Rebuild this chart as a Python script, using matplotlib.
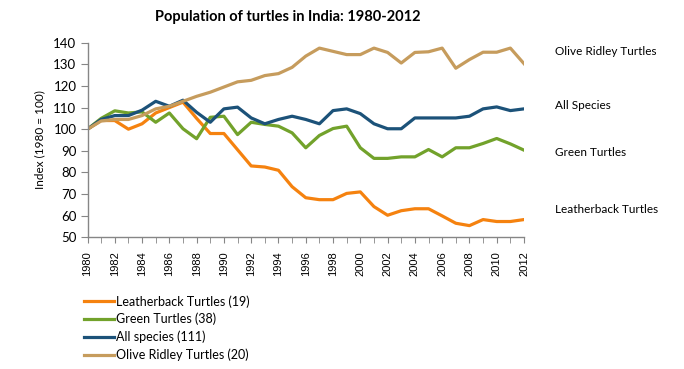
import matplotlib
matplotlib.use("Agg")
import matplotlib.pyplot as plt

years = list(range(1980, 2013))
leatherback = [100, 104, 104, 100, 102.5, 107.5, 110, 112.5, 105, 98, 98, 90.5, 83, 82.5, 81, 73.4, 68.3,
               67.4, 67.4, 70.3, 71, 64.2, 60.2, 62.3, 63.2, 63.2, 59.9, 56.5, 55.4, 58.2, 57.3, 57.3, 58.2]
green = [100, 105, 108.5, 107.5, 108, 103.2, 107.5, 100.2, 95.6, 105.5, 106, 97.5, 103.2, 102.2, 101.4, 98.3, 91.4,
         97.1, 100.3, 101.4, 91.4, 86.5, 86.5, 87.2, 87.2, 90.6, 87.2, 91.4, 91.4, 93.4, 95.7, 93.2, 90.3]
all_species = [100, 104.5, 106.3, 106.3, 108.8, 112.9, 110.6, 113.4, 107.8, 103.2, 109.4, 110.2, 105.2, 102.5, 104.5, 106, 104.5,
               102.5, 108.6, 109.4, 107.2, 102.5, 100.2, 100.2, 105.2, 105.2, 105.2, 105.2, 106, 109.4, 110.3, 108.6, 109.4]
olive_ridley = [100, 103.8, 104.5, 104.5, 106.3, 109.4, 110.6, 112.9, 115.2, 117.1, 119.5, 121.9, 122.6, 124.8, 125.7, 128.6, 133.8,
                137.5, 136, 134.5, 134.5, 137.5, 135.5, 130.6, 135.5, 135.8, 137.5, 128.2, 132.2, 135.6, 135.6, 137.5, 130.3]

series = [
    ("Leatherback Turtles (19)", leatherback, "#F5820F"),
    ("Green Turtles (38)", green, "#72A22B"),
    ("All species (111)", all_species, "#1C5279"),
    ("Olive Ridley Turtles (20)", olive_ridley, "#C69C5D"),
]
end_labels = ["Leatherback Turtles", "Green Turtles", "All Species", "Olive Ridley Turtles"]
end_label_y = [62.9, 89.2, 110.8, 135.8]

W, H = 684, 369
fig = plt.figure(figsize=(W / 100, H / 100), dpi=100)
ax = fig.add_axes([87.5 / W, 1 - 237.3 / H, (524 - 87.5) / W, (237.3 - 42.7) / H])

for name, vals, col in series:
    ax.plot(years, vals, color=col, lw=2.3, label=name, solid_joinstyle="round")

ax.set_xlim(1980, 2012)
ax.set_ylim(50, 140)
ax.set_yticks(range(50, 141, 10))
ax.set_xticks(years, minor=True)
ax.set_xticks(range(1980, 2013, 2))
ax.set_xticklabels([str(y) for y in range(1980, 2013, 2)], rotation=90,
                   fontfamily="Liberation Sans", fontsize=8)
for lab in ax.get_yticklabels():
    lab.set_fontfamily("Lato")
    lab.set_fontsize(9.5)
ax.tick_params(axis="x", which="both", length=4, color="#868686", direction="out", pad=6)
ax.tick_params(axis="y", length=5, color="#868686", direction="out", pad=3)
for s in ["top", "right"]:
    ax.spines[s].set_visible(False)
for s in ["left", "bottom"]:
    ax.spines[s].set_color("#868686")
    ax.spines[s].set_linewidth(1)
ax.set_ylabel("Index (1980 = 100)", fontfamily="Lato", fontsize=8.5, labelpad=6)

for lab, yv in zip(end_labels, end_label_y):
    ax.text(1.072, yv, lab, transform=ax.get_yaxis_transform(), fontfamily="Lato",
            fontsize=8.5, va="center", ha="left", clip_on=False)

fig.text(288 / W, 1 - 17 / H, "Population of turtles in India: 1980-2012", ha="center", va="center",
         fontfamily="Lato", fontweight="bold", fontsize=10.5)

fig.legend(loc="upper left", bbox_to_anchor=(84 / W, 1 - 295 / H), frameon=False,
           prop={"family": "Lato", "size": 9}, handlelength=2.4, handletextpad=0.2,
           labelspacing=0.42, borderaxespad=0, borderpad=0)

fig.savefig("out.png", dpi=100)
